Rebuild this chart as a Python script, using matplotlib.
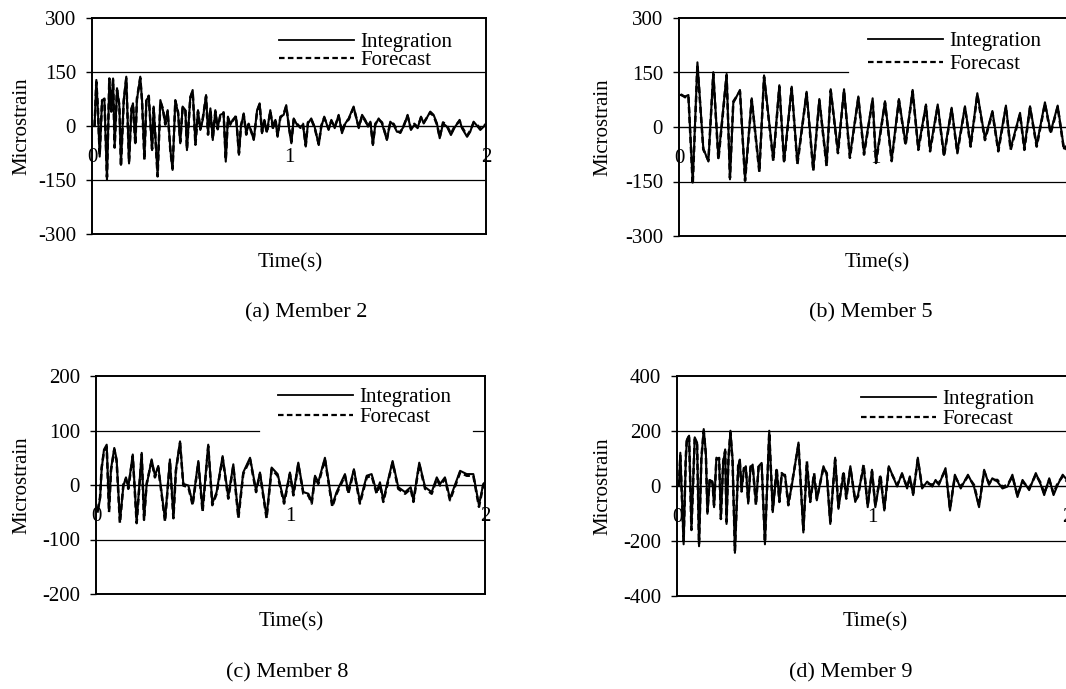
import matplotlib
matplotlib.use("Agg")
import matplotlib.pyplot as plt
from matplotlib.lines import Line2D

plt.rcParams['font.family'] = ['Liberation Serif', 'DejaVu Serif']
plt.rcParams['axes.unicode_minus'] = False

# ---- data (time in s, microstrain) ----
a_time = [0.013, 0.022, 0.030, 0.039, 0.051, 0.063, 0.076, 0.088, 0.098, 0.107,
          0.115, 0.127, 0.139, 0.147, 0.161, 0.174, 0.188, 0.200, 0.208, 0.220,
          0.228, 0.245, 0.254, 0.266, 0.276, 0.288, 0.305, 0.313, 0.333, 0.347,
          0.360, 0.372, 0.384, 0.398, 0.409, 0.423, 0.437, 0.448, 0.460, 0.474,
          0.482, 0.499, 0.511, 0.525, 0.538, 0.550, 0.562, 0.579, 0.589, 0.601,
          0.613, 0.626, 0.638, 0.651, 0.668, 0.679, 0.690, 0.702, 0.714, 0.731,
          0.746, 0.756, 0.770, 0.783, 0.795, 0.807, 0.821, 0.838, 0.851, 0.863,
          0.875, 0.888, 0.905, 0.919, 0.931, 0.942, 0.956, 0.973, 0.986, 1.000,
          1.012, 1.024, 1.041, 1.058, 1.071, 1.085, 1.096, 1.113, 1.130, 1.151,
          1.164, 1.179, 1.201, 1.215, 1.232, 1.252, 1.269, 1.286, 1.303, 1.328,
          1.354, 1.371, 1.387, 1.401, 1.413, 1.426, 1.438, 1.455, 1.472, 1.497,
          1.514, 1.531, 1.548, 1.565, 1.582, 1.602, 1.619, 1.636, 1.653, 1.670,
          1.684, 1.717, 1.734, 1.751, 1.765, 1.782, 1.802, 1.822, 1.839, 1.866,
          1.878, 1.904, 1.920, 1.937, 1.951, 1.971, 1.988, 2.000]
a_integ = [0, 128, 44, -85, 72, 72, -150, 128, 44, 132,
           -57, 105, 54, -108, 72, 137, -104, 44, 63, -48,
           72, 137, 72, -90, 72, 81, -67, 54, -136, 72,
           44, 7, 44, -67, -122, 72, 35, -48, 54, 44,
           -67, 81, 100, -48, 44, -11, 17, 86, -20, 49,
           -39, 44, -6, 31, 35, -99, 26, 3, 17, 26,
           -80, -2, 35, -20, 3, -11, -39, 44, 63, -20,
           17, -16, 44, -6, 17, -30, 26, 31, 58, -6,
           -48, 21, 3, -2, 3, -57, 7, 21, -2, -53,
           -2, 26, -11, 17, -6, 31, -20, 7, 21, 54,
           -6, 31, 17, -2, 12, -53, 3, 21, 7, -39,
           12, 3, -16, -16, -2, 31, -11, 3, -6, 26,
           7, 40, 31, 7, -34, 7, -2, -25, -6, 17,
           -6, -30, -16, 12, 3, -11, -2, 7]
a_fore = [0, 122, 50, -80, 70, 76, -142, 132, 40, 128,
          -60, 100, 58, -112, 68, 132, -100, 48, 60, -52,
          76, 133, 70, -94, 70, 84, -64, 50, -140, 68,
          48, 4, 40, -70, -118, 70, 38, -44, 50, 46,
          -64, 78, 96, -52, 40, -8, 20, 82, -24, 46,
          -36, 40, -9, 28, 38, -94, 22, 6, 14, 28,
          -76, 1, 32, -24, 6, -14, -36, 40, 60, -17,
          14, -19, 41, -9, 20, -27, 23, 34, 55, -3,
          -44, 18, 6, -5, 6, -54, 10, 18, -5, -50,
          1, 23, -8, 14, -3, 28, -17, 10, 18, 51,
          -3, 28, 14, 1, 9, -50, 6, 18, 10, -36,
          9, 6, -13, -19, 1, 28, -8, 6, -3, 23,
          10, 37, 28, 4, -31, 10, 1, -22, -3, 14,
          -3, -27, -13, 9, 6, -8, 1, 4]

b_time = [0.009, 0.031, 0.048, 0.070, 0.094, 0.124, 0.150, 0.175, 0.201, 0.243,
          0.260, 0.277, 0.311, 0.337, 0.371, 0.410, 0.434, 0.481, 0.512, 0.536,
          0.575, 0.604, 0.651, 0.685, 0.716, 0.753, 0.774, 0.811, 0.842, 0.872,
          0.915, 0.944, 0.988, 1.005, 1.051, 1.085, 1.122, 1.156, 1.192, 1.221,
          1.260, 1.281, 1.320, 1.352, 1.391, 1.420, 1.459, 1.488, 1.522, 1.561,
          1.599, 1.629, 1.668, 1.692, 1.740, 1.762, 1.791, 1.825, 1.867, 1.896,
          1.932, 1.964, 2.000]
b_integ = [88, 84, 88, -153, 178, -59, -95, 151, -86, 146,
           -144, 66, 102, -144, 79, -121, 142, -90, 115, -95,
           111, -99, 97, -117, 77, -104, 104, -68, 104, -81,
           84, -72, 79, -95, 71, -90, 77, -46, 102, -59,
           62, -63, 62, -77, 53, -68, 57, -50, 93, -32,
           44, -63, 59, -59, 39, -59, 57, -50, 68, -14,
           59, -59, -40]
b_fore = [90, 82, 86, -158, 172, -62, -92, 146, -90, 142,
          -140, 70, 98, -148, 75, -124, 138, -94, 111, -99,
          107, -103, 93, -121, 73, -108, 100, -72, 100, -85,
          80, -76, 75, -99, 67, -94, 73, -50, 98, -63,
          58, -67, 58, -81, 49, -72, 53, -54, 89, -36,
          40, -67, 55, -63, 35, -63, 53, -54, 64, -18,
          55, -63, -44]

c_time = [0.009, 0.021, 0.029, 0.041, 0.055, 0.067, 0.077, 0.094, 0.106, 0.123,
          0.141, 0.154, 0.166, 0.189, 0.209, 0.235, 0.247, 0.260, 0.286, 0.303,
          0.320, 0.355, 0.380, 0.398, 0.411, 0.432, 0.449, 0.475, 0.497, 0.526,
          0.548, 0.577, 0.598, 0.620, 0.651, 0.680, 0.706, 0.732, 0.757, 0.792,
          0.823, 0.843, 0.877, 0.903, 0.934, 0.967, 0.997, 1.015, 1.040, 1.066,
          1.092, 1.109, 1.126, 1.143, 1.177, 1.215, 1.237, 1.280, 1.297, 1.326,
          1.357, 1.392, 1.417, 1.443, 1.460, 1.477, 1.525, 1.554, 1.589, 1.618,
          1.632, 1.662, 1.692, 1.726, 1.752, 1.769, 1.794, 1.820, 1.872, 1.906,
          1.940, 1.969, 1.991, 2.000]
c_integ = [-49, -25, 29, 65, 74, -46, 29, 68, 47, -67,
           -1, 14, -4, 56, -67, 59, -61, -1, 47, 17,
           35, -64, 47, -58, 29, 80, 2, -1, -34, 44,
           -46, 74, -34, -13, 53, -22, 38, -58, 23, 50,
           -10, 23, -58, 32, 20, -31, 23, -16, 41, -13,
           -16, -31, 17, 5, 50, -37, -13, 20, -13, 29,
           -31, 17, 20, -13, 5, -28, 44, -4, -13, -4,
           -28, 41, -4, -13, 14, 2, 14, -25, 26, 20,
           20, -37, 2, 5]
c_fore = [-46, -22, 32, 62, 70, -50, 26, 65, 44, -70,
          2, 11, -7, 53, -70, 56, -64, 2, 44, 14,
          32, -67, 44, -61, 26, 77, -1, -4, -37, 41,
          -49, 71, -37, -16, 50, -25, 35, -61, 20, 47,
          -13, 20, -61, 29, 17, -34, 20, -19, 38, -16,
          -19, -34, 14, 2, 47, -40, -16, 17, -16, 26,
          -34, 14, 17, -16, 2, -31, 41, -7, -16, -7,
          -31, 38, -7, -16, 11, -1, 11, -28, 23, 17,
          17, -40, -1, 2]

d_time = [0.010, 0.017, 0.034, 0.045, 0.051, 0.062, 0.074, 0.091, 0.103, 0.113,
          0.125, 0.137, 0.148, 0.156, 0.168, 0.182, 0.190, 0.202, 0.216, 0.225,
          0.237, 0.247, 0.254, 0.264, 0.274, 0.285, 0.297, 0.314, 0.322, 0.331,
          0.343, 0.353, 0.365, 0.377, 0.388, 0.405, 0.419, 0.434, 0.451, 0.473,
          0.491, 0.511, 0.525, 0.537, 0.554, 0.571, 0.588, 0.623, 0.648, 0.666,
          0.683, 0.703, 0.717, 0.751, 0.768, 0.786, 0.811, 0.828, 0.854, 0.868,
          0.889, 0.914, 0.928, 0.957, 0.978, 1.000, 1.017, 1.043, 1.063, 1.086,
          1.129, 1.154, 1.180, 1.194, 1.211, 1.235, 1.257, 1.283, 1.309, 1.326,
          1.343, 1.377, 1.400, 1.425, 1.455, 1.492, 1.523, 1.549, 1.575, 1.600,
          1.617, 1.643, 1.669, 1.695, 1.720, 1.746, 1.772, 1.806, 1.840, 1.866,
          1.883, 1.909, 1.931, 1.952, 1.978, 2.000]
d_integ = [0, 121, -212, 96, 170, 183, -151, 177, 158, -219,
           96, 207, 121, -101, 22, 16, -77, 103, 96, -114,
           84, 133, -138, 96, 201, 96, -243, 72, 96, -15,
           59, 72, -64, 65, 78, -64, 72, 84, -212, 201,
           -95, 59, -52, 41, 41, -64, -2, 158, -169, 84,
           -52, 41, -52, 72, 41, -138, 103, -83, 47, -40,
           72, -58, -33, 72, -77, 59, -77, 35, -89, 72,
           -2, 47, -9, 35, -33, 103, -9, 16, -2, 22,
           4, 65, -89, 41, -9, 41, -2, -77, 59, 4,
           28, 16, -9, -2, 41, -40, 22, -15, 47, 4,
           -33, 28, -33, 4, 41, 22]
d_fore = [0, 110, -200, 104, 178, 176, -160, 170, 150, -210,
          104, 200, 114, -94, 28, 10, -70, 96, 102, -120,
          90, 126, -130, 104, 194, 88, -234, 78, 90, -20,
          65, 66, -58, 71, 72, -70, 78, 78, -204, 194,
          -88, 65, -58, 47, 35, -70, 4, 150, -160, 90,
          -58, 47, -46, 66, 47, -130, 96, -77, 53, -46,
          66, -52, -39, 78, -71, 53, -71, 41, -83, 66,
          4, 41, -3, 29, -27, 96, -3, 10, 4, 16,
          10, 59, -83, 35, -3, 35, 4, -71, 53, 10,
          22, 22, -3, 4, 35, -34, 16, -9, 41, 10,
          -27, 22, -27, 10, 35, 16]

captions = ['(a) Member 2', '(b) Member 5', '(c) Member 8', '(d) Member 9']
ylims = [300, 300, 200, 400]
yticks = [[-300, -150, 0, 150, 300], [-300, -150, 0, 150, 300],
          [-200, -100, 0, 100, 200], [-400, -200, 0, 200, 400]]
xtick_labels = ['0', '1', '2']

W, H = 1066, 689
fig = plt.figure(figsize=(W / 100, H / 100), dpi=100)

# pixel boxes: left, top, right, bottom
boxes = [(92, 18, 486, 234), (679, 18, 1071, 236),
         (96, 376, 485, 594), (677, 376, 1067, 596)]
# gridline segments (axes fraction) for the upper gridline, where the legend hides it
upper_grid = [[(0, 1)], [(0, 0.43)], [(0, 0.42), (0.97, 1)], [(0, 1)]]
legend_anchor = [(0.475, 0.934), (0.482, 0.937), (0.468, 0.948), (0.472, 0.939)]
legend_spacing = [-0.05, 0.15, 0.03, 0.03]
xlabel_pos = [(290, 263), (877, 263), (291, 622), (875, 622)]
caption_pos = [(306, 313), (871, 313), (287, 673), (851, 673)]
ylabel_x = [22, 603, 22, 603]

series = [(a_time, a_integ, a_fore), (b_time, b_integ, b_fore),
          (c_time, c_integ, c_fore), (d_time, d_integ, d_fore)]

for i in range(4):
    l, t, r, b = boxes[i]
    ax = fig.add_axes([l / W, 1 - b / H, (r - l) / W, (b - t) / H])
    tm, integ, fore = series[i]
    lim = ylims[i]

    ax.plot(tm, integ, color='black', lw=1.5, zorder=3)
    ax.plot(tm, fore, color='black', lw=1.8, ls=(0, (2.5, 1.5)), zorder=4)

    ax.axhline(0, color='black', lw=1.0, zorder=2)
    for xmin, xmax in upper_grid[i]:
        ax.axhline(yticks[i][3], xmin=xmin, xmax=xmax, color='black', lw=0.9, zorder=1)
    ax.axhline(yticks[i][1], color='black', lw=0.9, zorder=1)

    ax.set_xlim(0, 2)
    ax.set_ylim(-lim, lim)
    ax.set_yticks(yticks[i])
    ax.set_xticks([])
    ax.tick_params(axis='y', direction='out', length=4, width=1, pad=7.5,
                   labelsize=15, colors='black')
    for sp in ax.spines.values():
        sp.set_linewidth(1.4)
        sp.set_color('black')

    for k, lab in enumerate(xtick_labels):
        ax.text(k, 0.355, lab, transform=ax.get_xaxis_transform(), fontsize=15,
                ha='center', va='center', zorder=1)

    handles = [Line2D([], [], color='black', lw=1.3),
               Line2D([], [], color='black', lw=1.6, ls=(0, (2.5, 1.5)))]
    ax.legend(handles, ['Integration', 'Forecast'], loc='upper left',
              bbox_to_anchor=legend_anchor[i], frameon=False, fontsize=15,
              handlelength=3.6, handletextpad=0.3, borderpad=0, borderaxespad=0,
              labelspacing=legend_spacing[i])

    cy = 1 - (t + b) / 2 / H
    fig.text(ylabel_x[i] / W, cy, 'Microstrain', rotation=90, fontsize=15,
             ha='center', va='center')
    xx, xy = xlabel_pos[i]
    fig.text(xx / W, 1 - xy / H, 'Time(s)', fontsize=15, ha='center', va='center')
    cx, cyy = caption_pos[i]
    fig.text(cx / W, 1 - cyy / H, captions[i], fontsize=16, ha='center', va='center')

fig.savefig('out.png', dpi=100, facecolor='white')
